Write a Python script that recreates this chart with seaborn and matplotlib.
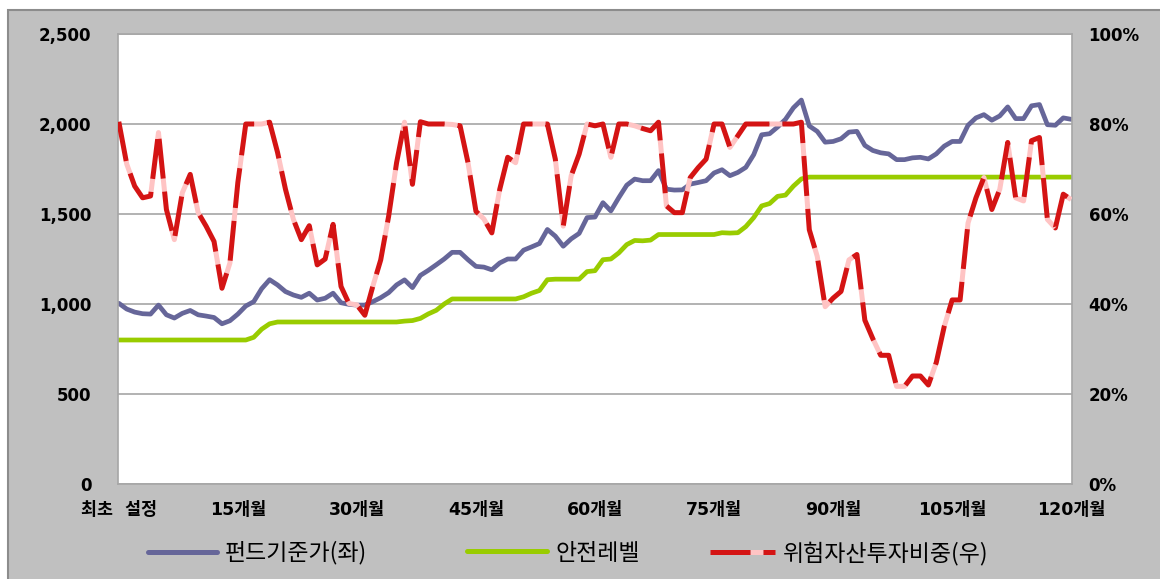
import pandas as pd
import matplotlib
matplotlib.use('Agg')
import matplotlib.pyplot as plt
import seaborn as sns
from matplotlib.lines import Line2D
from matplotlib.patches import Rectangle
from matplotlib.ticker import FuncFormatter

# data (monthly, 0..120)
months = list(range(121))

fund_nav = [
    1004, 972, 955, 946, 944, 994, 940, 922, 948, 964,
    940, 933, 925, 890, 907, 944, 989, 1013, 1085, 1135,
    1106, 1069, 1050, 1037, 1060, 1022, 1032, 1060, 1007, 998,
    994, 994, 1013, 1035, 1063, 1106, 1134, 1091, 1159, 1187,
    1218, 1250, 1287, 1287, 1246, 1209, 1205, 1190, 1228, 1250,
    1250, 1299, 1317, 1336, 1414, 1377, 1321, 1362, 1392, 1480,
    1483, 1563, 1517, 1591, 1660, 1694, 1685, 1685, 1741, 1638,
    1633, 1634, 1666, 1675, 1685, 1728, 1746, 1713, 1731, 1759,
    1830, 1940, 1946, 1983, 2026, 2090, 2133, 1989, 1959, 1899,
    1903, 1918, 1955, 1959, 1881, 1853, 1840, 1834, 1802, 1802,
    1812, 1815, 1806, 1834, 1877, 1903, 1903, 1993, 2034, 2052,
    2021, 2045, 2095, 2030, 2030, 2101, 2108, 1996, 1993, 2034,
    2026,
]

safety_level = (
    [800] * 17 + [815, 860, 890, 900]
    + [900] * 15 + [905, 908, 920, 945, 965, 1000]
    + [1028] * 9 + [1040, 1060, 1075, 1135]
    + [1138] * 4 + [1180, 1185, 1246, 1250, 1284, 1330, 1353, 1351, 1355]
    + [1386] * 8 + [1396, 1394, 1396, 1430, 1480, 1545, 1558, 1598, 1605, 1655, 1695]
    + [1705] * 34
)

risk_weight = [
    80.5, 71.1, 66.2, 63.6, 64.0, 78.1, 61.0, 54.3, 64.7, 68.8,
    60.3, 57.3, 53.9, 43.5, 49.1, 67.0, 80.0, 80.0, 80.0, 80.4,
    73.7, 65.5, 58.8, 54.3, 57.4, 48.7, 50.0, 57.7, 43.9, 40.1,
    39.8, 37.5, 43.9, 49.8, 59.5, 71.4, 80.4, 66.6, 80.5, 80.0,
    80.0, 80.0, 79.9, 79.6, 71.4, 60.6, 58.9, 55.8, 65.5, 72.6,
    71.4, 80.0, 80.0, 80.0, 80.0, 72.2, 57.3, 68.5, 73.3, 80.0,
    79.6, 80.0, 72.6, 80.0, 80.0, 79.6, 79.0, 78.5, 80.4, 61.8,
    60.3, 60.3, 68.1, 70.3, 72.2, 80.0, 80.0, 74.8, 77.4, 80.0,
    80.0, 80.0, 80.0, 80.0, 80.0, 80.0, 80.4, 56.5, 50.6, 39.4,
    41.3, 42.8, 49.8, 51.0, 36.4, 32.3, 28.6, 28.6, 21.7, 21.7,
    24.0, 24.0, 22.0, 27.0, 35.0, 40.9, 40.9, 58.0, 63.6, 68.1,
    61.0, 65.5, 75.9, 63.6, 62.9, 76.3, 77.0, 58.8, 56.9, 64.4,
    63.2,
]

tick_months = [0, 15, 30, 45, 60, 75, 90, 105, 120]
tick_labels = ['최초  설정', '15개월', '30개월', '45개월', '60개월',
               '75개월', '90개월', '105개월', '120개월']
series_names = ['펀드기준가(좌)', '안전레벨', '위험자산투자비중(우)']

df = pd.DataFrame({'month': months, 'nav': fund_nav,
                   'safe': safety_level, 'risk': risk_weight})

blue = '#666699'
green = '#99cc00'
red = '#d41414'
pink = '#ffc4c4'
dash = (0, (8, 2.6))

sns.set_style('white')
plt.rcParams['font.family'] = ['DejaVu Sans', 'Noto Sans CJK KR']

fig = plt.figure(figsize=(11.6, 5.79), dpi=100)
fig.patch.set_facecolor('white')
fig.patches.append(Rectangle((8 / 1160, -0.01), 1.0, 1 - 10 / 579 + 0.01,
                             transform=fig.transFigure, facecolor='#c0c0c0',
                             edgecolor='#8c8c8c', lw=1.5, zorder=-10))

ax = fig.add_axes([118 / 1160, 1 - 484 / 579, (1072 - 118) / 1160, (484 - 34) / 579])
ax.set_facecolor('white')

sns.lineplot(data=df, x='month', y='nav', ax=ax, color=blue, linewidth=3.4)
sns.lineplot(data=df, x='month', y='safe', ax=ax, color=green, linewidth=3.4)

ax2 = ax.twinx()
sns.lineplot(data=df, x='month', y='risk', ax=ax2, color=red, linewidth=3.6,
             linestyle=dash, gapcolor=pink)

ax.set_xlim(-0.1, 120.1)
ax.set_ylim(0, 2500)
ax2.set_ylim(0, 100)
ax.set_yticks(range(0, 2501, 500))
ax2.set_yticks(range(0, 101, 20))
ax.yaxis.set_major_formatter(FuncFormatter(lambda v, p: f'{int(v):,}'))
ax2.yaxis.set_major_formatter(FuncFormatter(lambda v, p: f'{int(v)}%'))
ax.set_xticks(tick_months)
ax.set_xticklabels(tick_labels)
ax.set_xlabel('')
ax.set_ylabel('')
ax2.set_ylabel('')

ax.yaxis.grid(True, color='#a6a6a6', lw=1.2)
ax.set_axisbelow(True)
for s in ax.spines.values():
    s.set_color('#a6a6a6')
    s.set_linewidth(1.2)
for s in ax2.spines.values():
    s.set_visible(False)

ax.tick_params(axis='y', length=0, pad=19, labelsize=12, labelcolor='black')
ax.tick_params(axis='x', length=0, pad=12, labelsize=12.5, labelcolor='black')
ax2.tick_params(axis='y', length=0, pad=12, labelsize=12, labelcolor='black')
for lab in ax.get_yticklabels() + ax.get_xticklabels() + ax2.get_yticklabels():
    lab.set_fontweight('bold')

# legend: one entry per series, placed where the reference puts them
legend_items = [
    (Line2D([], [], color=blue, lw=3.6), series_names[0], 148, 3.0),
    (Line2D([], [], color=green, lw=3.6), series_names[1], 467, 3.5),
    (Line2D([], [], color=red, lw=3.6, linestyle=dash, gapcolor=pink),
     series_names[2], 710, 2.85),
]
for handle, name, x0, hl in legend_items:
    leg = fig.legend([handle], [name], loc='center left',
                     bbox_to_anchor=(x0 / 1160, 1 - 553 / 579),
                     frameon=False, borderpad=0, borderaxespad=0,
                     handlelength=hl, handletextpad=0.35,
                     prop={'family': ['Noto Sans CJK KR', 'DejaVu Sans'], 'size': 16.5})
    for t in leg.get_texts():
        t.set_color('black')

fig.savefig('out.png', dpi=100, facecolor=fig.get_facecolor())
